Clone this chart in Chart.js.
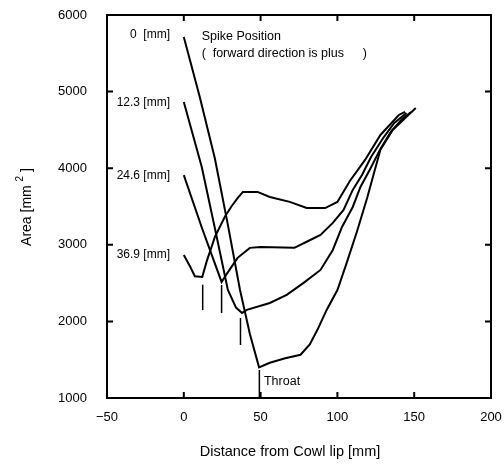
<!DOCTYPE html>
<html>
<head>
<meta charset="utf-8">
<script src="https://cdn.jsdelivr.net/npm/chart.js@4.4.0/dist/chart.umd.min.js"></script>
<style>
body{margin:0;background:#fff;}
#wrap{width:504px;height:467px;}
</style>
</head>
<body>
<div id="wrap"><canvas id="areachart" width="504" height="467"></canvas></div>
<script>
const canvas = document.getElementById('areachart');
const ctx = canvas.getContext('2d');

// axis ticks
const xTicks = [-50, 0, 50, 100, 150, 200];
const yTicks = [1000, 2000, 3000, 4000, 5000, 6000];

// spike position curves (x = distance from cowl lip [mm], y = area [mm2])
const spike0X = [0, 10.4, 20.2, 28.7, 36.6, 43.1, 49, 56, 66, 76, 82, 87, 93, 100, 106, 113, 119.5, 124, 128, 136, 145, 151];
const spike0Y = [5713, 4930, 4130, 3260, 2410, 1830, 1400, 1460, 1520, 1565, 1700, 1890, 2150, 2410, 2760, 3190, 3620, 3950, 4240, 4500, 4670, 4786];

const spike12X = [0, 11.7, 20.2, 28.7, 34, 37.9, 41, 56, 67, 78, 89, 97, 103, 110, 115, 121, 128, 135, 142, 148];
const spike12Y = [4864, 4016, 3220, 2411, 2180, 2111, 2150, 2240, 2346, 2503, 2672, 2933, 3233, 3494, 3755, 3977, 4250, 4480, 4640, 4734];

const spike24X = [0, 12, 24.6, 28, 35, 43, 50, 72, 80, 89, 97, 104, 110, 116, 122, 130, 137, 145];
const spike24Y = [3910, 3210, 2515, 2620, 2830, 2960, 2970, 2960, 3040, 3130, 3286, 3456, 3716, 3912, 4150, 4400, 4590, 4720];

const spike36X = [0, 4, 7.2, 12, 15, 20.2, 26.8, 31, 35, 38.5, 48, 56, 69, 80, 92, 100, 108, 118, 128, 140, 144];
const spike36Y = [2867, 2720, 2590, 2580, 2790, 3100, 3370, 3500, 3610, 3690, 3690, 3625, 3560, 3480, 3480, 3560, 3830, 4108, 4434, 4695, 4735];

// throat markers
const throatX = [12.3, 24.6, 36.9, 49.2];
const throatTop = [2480, 2476, 2046, 1367];
const throatBottom = [2150, 2111, 1693, 1000];

const spikeLabels = ['0  [mm]', '12.3 [mm]', '24.6 [mm]', '36.9 [mm]'];
const spikeLabelY = [5740, 4860, 3900, 2868];

function pts(xs, ys) {
  return xs.map(function(x, i) { return {x: x, y: ys[i]}; });
}

var sets = [];
[[spike0X, spike0Y], [spike12X, spike12Y], [spike24X, spike24Y], [spike36X, spike36Y]].forEach(function(s) {
  sets.push({data: pts(s[0], s[1]), borderColor: '#000', borderWidth: 2, pointRadius: 0, showLine: true, tension: 0});
});
for (var i = 0; i < throatX.length; i++) {
  sets.push({data: pts([throatX[i], throatX[i]], [throatTop[i], throatBottom[i]]), borderColor: '#000', borderWidth: 1.5, pointRadius: 0, showLine: true});
}

const FONT = '"Liberation Sans", Arial, sans-serif';

const frame = {
  id: 'frame',
  afterDraw: function(c) {
    const a = c.chartArea, sx = c.scales.x, sy = c.scales.y, g = c.ctx;
    g.save();
    g.strokeStyle = '#000';
    g.lineWidth = 2;
    g.strokeRect(a.left, a.top, a.right - a.left, a.bottom - a.top);
    g.beginPath();
    xTicks.forEach(function(v) {
      const p = sx.getPixelForValue(v);
      g.moveTo(p, a.bottom); g.lineTo(p, a.bottom - 6);
      g.moveTo(p, a.top); g.lineTo(p, a.top + 6);
    });
    yTicks.forEach(function(v) {
      const p = sy.getPixelForValue(v);
      g.moveTo(a.left, p); g.lineTo(a.left + 6, p);
      g.moveTo(a.right, p); g.lineTo(a.right - 6, p);
    });
    g.stroke();

    g.fillStyle = '#000';
    g.textBaseline = 'middle';
    g.font = '12px ' + FONT;
    g.textAlign = 'right';
    for (var k = 0; k < spikeLabels.length; k++) {
      g.fillText(spikeLabels[k], sx.getPixelForValue(-9), sy.getPixelForValue(spikeLabelY[k]));
    }
    g.textAlign = 'left';
    g.font = '12.5px ' + FONT;
    g.fillText('Spike Position', sx.getPixelForValue(11.7), sy.getPixelForValue(5713));
    var ly = sy.getPixelForValue(5491);
    g.fillText('(', sx.getPixelForValue(11.7), ly);
    g.fillText('forward direction is plus', sx.getPixelForValue(18.8), ly);
    g.fillText(')', sx.getPixelForValue(116.5), ly);
    g.fillText('Throat', sx.getPixelForValue(52.2), sy.getPixelForValue(1210));

    // axis titles
    g.font = '14.5px ' + FONT;
    g.textAlign = 'center';
    g.fillText('Distance from Cowl lip [mm]', 290, 452);

    g.translate(27, 207);
    g.rotate(-Math.PI / 2);
    g.font = '14px ' + FONT;
    var t1 = 'Area [mm ', t2 = '2', t3 = ' ]';
    var w1 = g.measureText(t1).width, w3 = g.measureText(t3).width;
    g.font = '10px ' + FONT;
    var w2 = g.measureText(t2).width;
    var x0 = -(w1 + w2 + w3) / 2;
    g.textAlign = 'left';
    g.font = '14px ' + FONT;
    g.fillText(t1, x0, 0);
    g.font = '10px ' + FONT;
    g.fillText(t2, x0 + w1, -7);
    g.font = '14px ' + FONT;
    g.fillText(t3, x0 + w1 + w2, 0);
    g.restore();
  }
};

function minusLabel(v) {
  return v < 0 ? '\u2212' + Math.abs(v) : String(v);
}

const chart = new Chart(ctx, {
  type: 'scatter',
  data: {datasets: sets},
  plugins: [frame],
  options: {
    responsive: false,
    animation: false,
    events: [],
    layout: {padding: {top: 15, right: 13, left: 0, bottom: 0}},
    plugins: {legend: {display: false}, tooltip: {enabled: false}},
    scales: {
      x: {
        type: 'linear', min: -50, max: 200,
        grid: {display: false}, border: {display: false},
        ticks: {stepSize: 50, padding: 4, color: '#000', font: {size: 13, family: FONT}, callback: minusLabel, maxRotation: 0},
        afterFit: function(s) { s.height = 69; s.paddingLeft = 0; s.paddingRight = 0; }
      },
      y: {
        type: 'linear', min: 1000, max: 6000,
        grid: {display: false}, border: {display: false},
        ticks: {stepSize: 1000, padding: 12, color: '#000', font: {size: 13, family: FONT}, callback: minusLabel},
        afterFit: function(s) { s.width = 107; s.paddingTop = 0; s.paddingBottom = 0; }
      }
    }
  }
});
</script>
</body>
</html>
